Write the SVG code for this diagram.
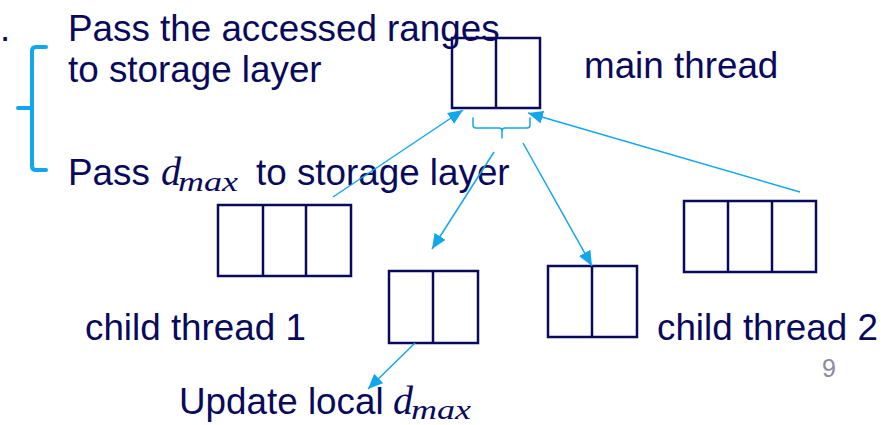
<svg xmlns="http://www.w3.org/2000/svg" width="884" height="425" viewBox="0 0 884 425">
<style>
.t{font-family:"Liberation Sans",Arial,sans-serif;font-size:36.8px;fill:#0A0A5C}
.m{font-family:"Liberation Serif","DejaVu Serif",serif;font-style:italic;fill:#0A0A5C}
.box{fill:none;stroke:#0A0A5C;stroke-width:2.5}
.c{stroke:#12A6EE;stroke-width:1.5;fill:none}
.br{stroke:#12A6EE;fill:none;stroke-linecap:round;stroke-linejoin:round}
</style>
<defs>
<marker id="ah" markerUnits="userSpaceOnUse" markerWidth="16" markerHeight="14" refX="15" refY="6.5" orient="auto">
<path d="M0,0 L15,6.5 L0,13 z" fill="#12A6EE"/>
</marker>
</defs>
<rect width="884" height="425" fill="#fff"/>
<g id="labels">
<text class="t" x="0" y="41">.</text>
<text class="t" x="68" y="41">Pass the accessed ranges</text>
<text class="t" x="68" y="82">to storage layer</text>
<text class="t" x="68" y="185">Pass</text>
<text class="m" x="161" y="185" font-size="40">d</text>
<text class="m" x="178" y="191" font-size="28" textLength="60" lengthAdjust="spacingAndGlyphs">max</text>
<text class="t" x="256" y="185">to storage layer</text>
<text class="t" x="584" y="78">main thread</text>
<text class="t" x="85" y="340">child thread 1</text>
<text class="t" x="657" y="340">child thread 2</text>
<text class="t" x="179" y="414">Update local</text>
<text class="m" x="393" y="414" font-size="40">d</text>
<text class="m" x="411" y="419" font-size="28" textLength="60" lengthAdjust="spacingAndGlyphs">max</text>
<text x="829" y="377" font-family="Liberation Sans,Arial,sans-serif" font-size="25" fill="#8C8CA0" text-anchor="middle">9</text>
</g>
<g id="bracket-left">
<path class="br" stroke-width="4" d="M46,47 H36 Q32,47 32,51 V166 Q32,170 36,170 H46 M18,108 H32"/>
</g>
<g id="bracket-small">
<path class="br" stroke-width="1.5" d="M473,118 V125 Q473,128 476,128 H499 Q502,128 502,131 V138 M502,131 Q502,128 505,128 H527 Q530,128 530,125 V118"/>
</g>
<g id="main-thread">
<rect class="box" x="452" y="38" width="88" height="70"/>
<line class="box" x1="496" y1="38" x2="496" y2="108"/>
</g>
<g id="child-thread-1">
<rect class="box" x="218" y="205" width="133" height="71"/>
<line class="box" x1="263" y1="205" x2="263" y2="276"/>
<line class="box" x1="306" y1="205" x2="306" y2="276"/>
</g>
<g id="child-block-a">
<rect class="box" x="389" y="271" width="89" height="72"/>
<line class="box" x1="433" y1="271" x2="433" y2="343"/>
</g>
<g id="child-block-b">
<rect class="box" x="548" y="266" width="89" height="71"/>
<line class="box" x1="592" y1="266" x2="592" y2="337"/>
</g>
<g id="child-thread-2">
<rect class="box" x="684" y="201" width="132" height="71"/>
<line class="box" x1="728" y1="201" x2="728" y2="272"/>
<line class="box" x1="772" y1="201" x2="772" y2="272"/>
</g>
<g id="connectors">
<line class="c" x1="333" y1="197" x2="463" y2="110" marker-end="url(#ah)"/>
<line class="c" x1="800" y1="192" x2="528" y2="113" marker-end="url(#ah)"/>
<line class="c" x1="494" y1="152" x2="432" y2="249" marker-end="url(#ah)"/>
<line class="c" x1="523" y1="143" x2="592" y2="266" marker-end="url(#ah)"/>
<line class="c" x1="415" y1="343" x2="368" y2="389" marker-end="url(#ah)"/>
</g>
</svg>
